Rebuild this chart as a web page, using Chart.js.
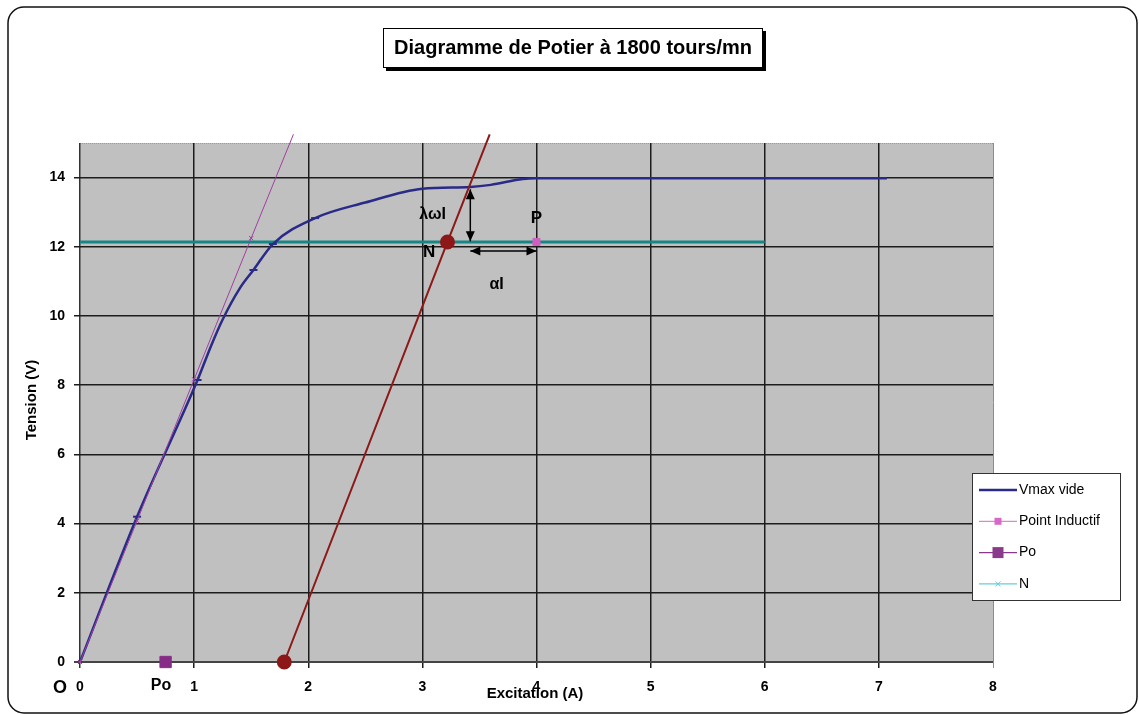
<!DOCTYPE html>
<html lang="fr">
<head>
<meta charset="UTF-8">
<title>Diagramme de Potier</title>
<script src="https://cdn.jsdelivr.net/npm/chart.js@4.4.0/dist/chart.umd.min.js"></script>
<style>
  html, body { margin: 0; padding: 0; background: #fff; }
</style>
</head>
<body>
<canvas id="potier" width="1139" height="715"></canvas>

<script>
var titre = 'Diagramme de Potier à 1800 tours/mn';
var xTicks = [0, 1, 2, 3, 4, 5, 6, 7, 8];
var yTicks = [0, 2, 4, 6, 8, 10, 12, 14];

// caracteristique a vide
var vmaxX = [0, 0.5, 1.03, 1.15, 1.25, 1.4, 1.52, 1.69, 2.06, 2.5, 3.0, 3.42, 3.6, 3.88, 4.0, 5, 6, 7.07];
var vmaxY = [0, 4.2, 8.15, 9.15, 9.9, 10.8, 11.33, 12.08, 12.83, 13.28, 13.68, 13.73, 13.79, 13.96, 13.98, 13.98, 13.98, 13.98];

// droite d'entrefer
var tangenteX = [0, 0.5, 1, 1.5, 1.87];
var tangenteY = [0, 4.08, 8.17, 12.25, 15.25];

// parallele passant par N
var droiteX = [1.79, 3.22, 3.59];
var droiteY = [0, 12.14, 15.25];

var pointP = [4, 12.14];
var pointPo = [0.75, 0];
var ligneNX = [0, 6];
var ligneNY = [12.14, 12.14];

function points(xs, ys) {
  var res = [];
  for (var i = 0; i < xs.length; i++) res.push({ x: xs[i], y: ys[i] });
  return res;
}

var police = '"Liberation Sans", Arial, sans-serif';

function fleche(c, x1, y1, x2, y2) {
  var ang = Math.atan2(y2 - y1, x2 - x1);
  c.beginPath();
  c.moveTo(x1, y1); c.lineTo(x2, y2);
  c.stroke();
  [[x1, y1, ang + Math.PI], [x2, y2, ang]].forEach(function (h) {
    c.beginPath();
    c.moveTo(h[0], h[1]);
    c.lineTo(h[0] - 10 * Math.cos(h[2]) + 4.5 * Math.sin(h[2]), h[1] - 10 * Math.sin(h[2]) - 4.5 * Math.cos(h[2]));
    c.lineTo(h[0] - 10 * Math.cos(h[2]) - 4.5 * Math.sin(h[2]), h[1] - 10 * Math.sin(h[2]) + 4.5 * Math.cos(h[2]));
    c.closePath();
    c.fill();
  });
}

function marque(c, type, x, y, taille, couleur) {
  c.fillStyle = couleur; c.strokeStyle = couleur;
  if (type === 'carre') {
    c.fillRect(x - taille / 2, y - taille / 2, taille, taille);
  } else if (type === 'croix') {
    c.lineWidth = 1;
    c.beginPath();
    c.moveTo(x - taille, y - taille); c.lineTo(x + taille, y + taille);
    c.moveTo(x - taille, y + taille); c.lineTo(x + taille, y - taille);
    c.stroke();
  }
}

var decor = {
  id: 'decor',
  beforeDraw: function (chart) {
    var c = chart.ctx, a = chart.chartArea;
    c.save();
    c.fillStyle = '#fff';
    c.fillRect(0, 0, chart.width, chart.height);
    c.fillStyle = '#c0c0c0';
    c.fillRect(a.left, a.top, a.right - a.left, a.bottom - a.top);
    c.strokeStyle = '#9a9a9a';
    c.lineWidth = 1;
    c.setLineDash([1, 1]);
    c.beginPath();
    c.moveTo(a.left, a.top + 0.5); c.lineTo(a.right, a.top + 0.5);
    c.stroke();
    c.restore();
  },
  afterDraw: function (chart) {
    var c = chart.ctx, xs = chart.scales.x, ys = chart.scales.y;
    c.save();

    // cadre
    c.strokeStyle = '#111';
    c.lineWidth = 1.5;
    c.beginPath();
    c.roundRect(8, 7, 1129, 706, 16);
    c.stroke();

    // titre
    c.fillStyle = '#000';
    c.fillRect(386, 31, 380, 40);
    c.fillStyle = '#fff';
    c.fillRect(383, 28, 380, 40);
    c.strokeStyle = '#000';
    c.lineWidth = 1;
    c.strokeRect(383.5, 28.5, 379, 39);
    c.fillStyle = '#000';
    c.font = 'bold 20px ' + police;
    c.textAlign = 'center';
    c.textBaseline = 'middle';
    c.fillText(titre, 573, 48);

    // titres des axes
    c.font = 'bold 15px ' + police;
    c.fillText('Excitation (A)', 535, 694);
    c.save();
    c.translate(32, 400);
    c.rotate(-Math.PI / 2);
    c.fillText('Tension (V)', 0, 0);
    c.restore();

    // fleches
    c.strokeStyle = '#000';
    c.fillStyle = '#000';
    c.lineWidth = 1.5;
    fleche(c, xs.getPixelForValue(3.42), ys.getPixelForValue(13.66), xs.getPixelForValue(3.42), ys.getPixelForValue(12.16));
    fleche(c, xs.getPixelForValue(3.42), ys.getPixelForValue(11.88), xs.getPixelForValue(4.0), ys.getPixelForValue(11.88));

    // etiquettes
    c.font = 'bold 17px ' + police;
    c.fillText('N', xs.getPixelForValue(3.06), ys.getPixelForValue(11.85));
    c.fillText('P', xs.getPixelForValue(4.0), ys.getPixelForValue(12.83));
    c.font = 'bold 16px ' + police;
    c.fillText('λωI', xs.getPixelForValue(3.09), ys.getPixelForValue(12.92));
    c.fillText('αI', xs.getPixelForValue(3.65), ys.getPixelForValue(10.92));
    c.fillText('Po', xs.getPixelForValue(0.71), 686);
    c.font = 'bold 18px ' + police;
    c.fillText('O', 60, 688);

    // legende
    c.fillStyle = '#fff';
    c.fillRect(972, 473, 148, 127);
    c.strokeStyle = '#333';
    c.lineWidth = 1;
    c.strokeRect(972.5, 473.5, 148, 127);
    c.textAlign = 'left';
    c.font = '14px ' + police;
    var y = 490;
    chart.data.datasets.forEach(function (d) {
      if (!d.legende) return;
      var l = d.legende;
      c.strokeStyle = l.couleur;
      c.lineWidth = l.epaisseur;
      c.beginPath();
      c.moveTo(979, y); c.lineTo(1017, y);
      c.stroke();
      if (l.marque) marque(c, l.marque, 998, y, l.taille, l.couleur);
      c.fillStyle = '#000';
      c.fillText(d.label, 1019, y);
      y += 31.3;
    });

    c.restore();
  }
};

new Chart(document.getElementById('potier'), {
  type: 'scatter',
  data: {
    datasets: [{
      label: 'Vmax vide',
      data: points(vmaxX, vmaxY),
      order: 3,
      showLine: true,
      cubicInterpolationMode: 'monotone',
      borderColor: '#2a2a88',
      borderWidth: 2.5,
      pointStyle: 'line',
      pointRadius: function (ctx) {
        var x = vmaxX[ctx.dataIndex];
        return [0.5, 1.03, 1.52, 1.69, 2.06].indexOf(x) >= 0 ? 4 : 0;
      },
      pointBorderColor: '#2a2a88',
      pointBorderWidth: 2,
      clip: false,
      legende: { couleur: '#2a2a88', epaisseur: 2.5 }
    }, {
      label: 'Point Inductif',
      data: [{ x: pointP[0], y: pointP[1] }],
      order: 0,
      pointStyle: 'rect',
      pointRadius: 5,
      backgroundColor: '#d060c0',
      borderColor: '#d060c0',
      clip: false,
      legende: { couleur: '#d868c8', epaisseur: 1, marque: 'carre', taille: 7 }
    }, {
      label: 'Po',
      data: [{ x: pointPo[0], y: pointPo[1] }],
      order: 0,
      pointStyle: 'rect',
      pointRadius: 8,
      backgroundColor: '#862c86',
      borderColor: '#862c86',
      clip: false,
      legende: { couleur: '#8a3a8a', epaisseur: 1.2, marque: 'carre', taille: 11 }
    }, {
      label: 'N',
      data: points(ligneNX, ligneNY),
      order: 5,
      showLine: true,
      borderColor: '#168686',
      borderWidth: 3,
      pointRadius: 0,
      clip: false,
      legende: { couleur: '#66ccdd', epaisseur: 1.2, marque: 'croix', taille: 2.5 }
    }, {
      label: 'tangente',
      data: points(tangenteX, tangenteY),
      order: 2,
      showLine: true,
      borderColor: '#a040a0',
      borderWidth: 1,
      pointStyle: 'crossRot',
      pointRadius: [3, 3, 3, 3, 0],
      pointBorderColor: '#a040a0',
      pointBorderWidth: 1,
      clip: false
    }, {
      label: 'droite N',
      data: points(droiteX, droiteY),
      order: 1,
      showLine: true,
      borderColor: '#8c1818',
      borderWidth: 2,
      pointStyle: 'circle',
      pointRadius: [6.5, 6.5, 0],
      backgroundColor: '#8c1818',
      pointBorderColor: '#8c1818',
      clip: false
    }]
  },
  options: {
    responsive: false,
    animation: false,
    layout: { padding: { top: 143, right: 146, left: 0, bottom: 0 } },
    plugins: {
      legend: { display: false },
      tooltip: { enabled: false }
    },
    scales: {
      x: {
        type: 'linear',
        min: 0,
        max: 8,
        afterFit: function (s) { s.height = 53; },
        afterBuildTicks: function (s) { s.ticks = xTicks.map(function (v) { return { value: v }; }); },
        border: { display: false },
        grid: {
          lineWidth: function (ctx) { return ctx.tick && ctx.tick.value === 8 ? 1 : 1.5; },
          color: function (ctx) {
            if (!ctx.tick) return '#1c1c1c';
            if (ctx.tick.value === 8) return '#8c8c8c';
            if (ctx.tick.value === 0) return '#333';
            return '#1c1c1c';
          },
          tickLength: 6
        },
        ticks: {
          padding: 11,
          color: '#000',
          font: { family: police, size: 14, weight: 'bold' }
        }
      },
      y: {
        type: 'linear',
        min: 0,
        max: 15,
        afterFit: function (s) { s.width = 80; },
        afterBuildTicks: function (s) { s.ticks = yTicks.map(function (v) { return { value: v }; }); },
        border: { display: false },
        grid: {
          lineWidth: function (ctx) { return ctx.tick && ctx.tick.value === 0 ? 2 : 1.5; },
          color: function (ctx) {
            return ctx.tick && ctx.tick.value === 0 ? '#444' : '#1c1c1c';
          },
          tickLength: 6
        },
        ticks: {
          padding: 9,
          color: '#000',
          font: { family: police, size: 14, weight: 'bold' }
        }
      }
    }
  },
  plugins: [decor]
});
</script>
</body>
</html>
